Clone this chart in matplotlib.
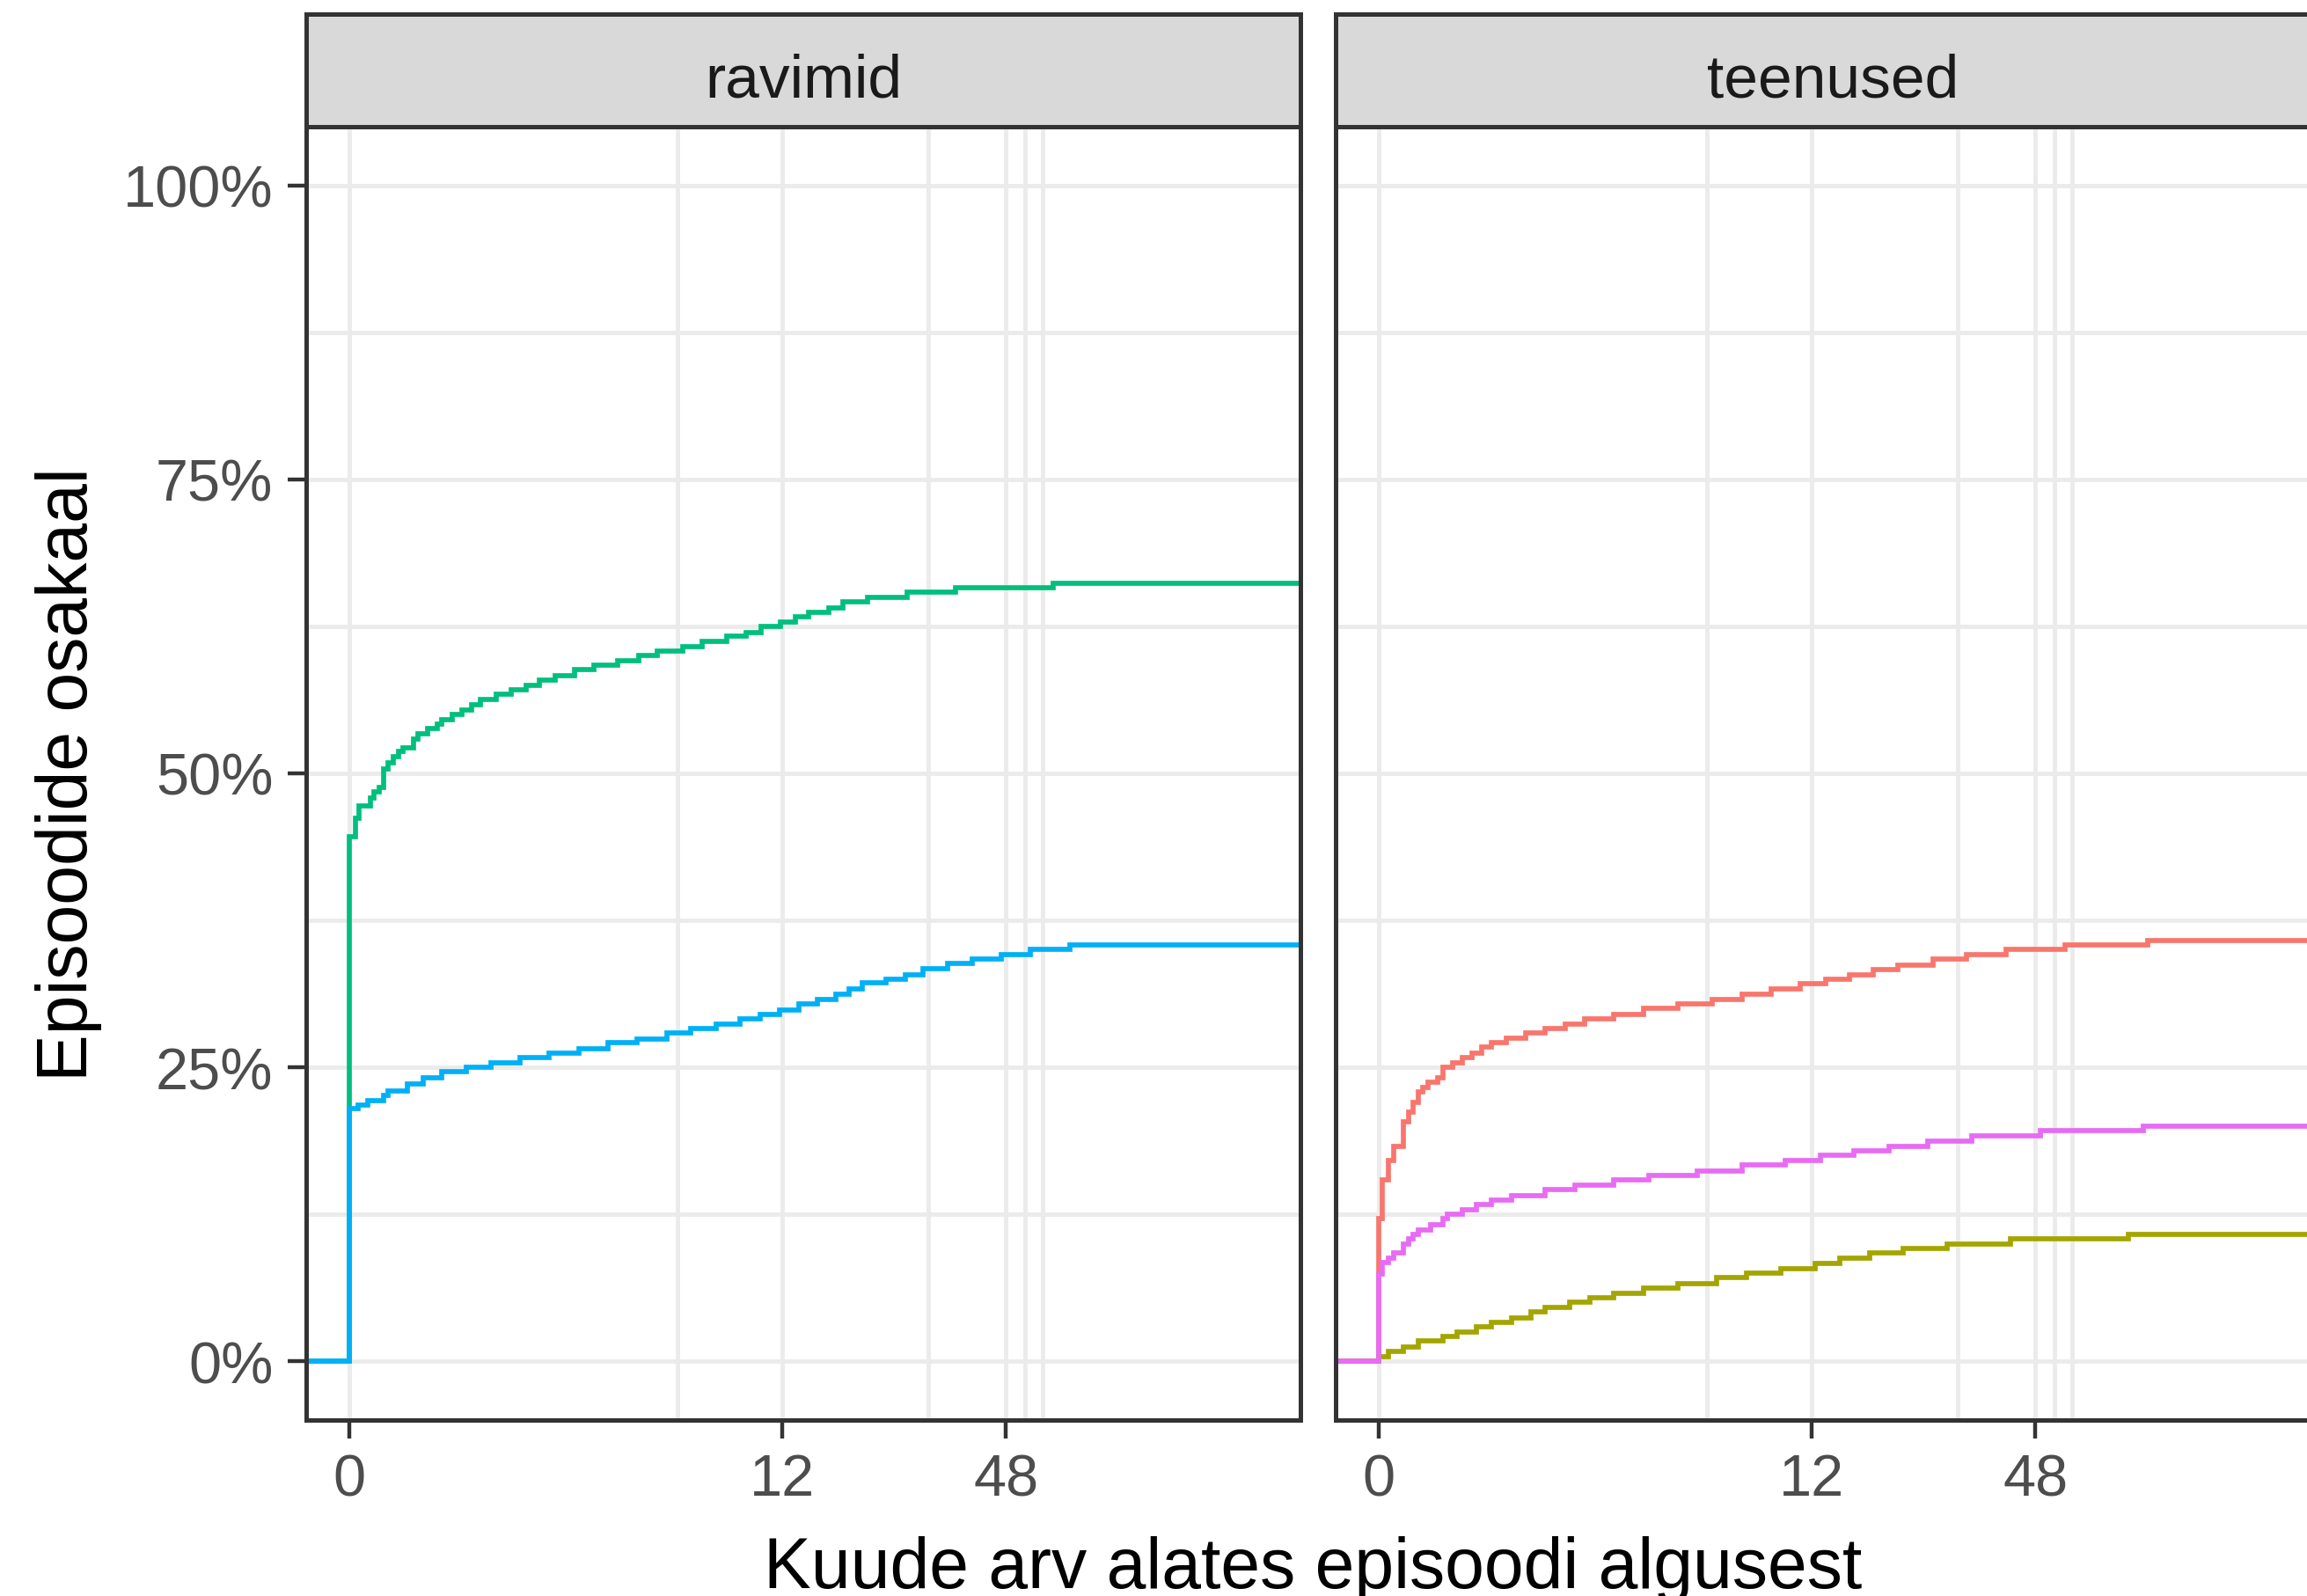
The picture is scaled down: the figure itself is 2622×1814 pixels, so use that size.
import numpy as np
import matplotlib.pyplot as plt
from matplotlib.ticker import FixedLocator, NullFormatter

plt.rcParams['font.family'] = ['Liberation Sans', 'DejaVu Sans']

# months since episode start / cumulative share (%)
ravimid_green_m = [0, 0.039, 0.057, 0.134, 0.157, 0.192, 0.2235, 0.26, 0.299, 0.338, 0.373, 0.464,
                   0.499, 0.592, 0.683, 0.734, 0.84, 0.946, 1.062, 1.181, 1.386, 1.61, 1.855, 2.092,
                   2.384, 2.797, 3.255, 3.92, 4.55, 5.21, 6.22, 7.10, 8.36, 9.5, 10.46, 11.87, 13.08,
                   14.2, 16.16, 17.65, 20.55, 26.25, 35.4, 63.9]
ravimid_green_p = [44.6, 46.2, 47.2, 47.9, 48.4, 48.8, 50.4, 50.9, 51.4, 51.9, 52.2, 52.9, 53.4, 53.8,
                   54.2, 54.6, 55.0, 55.4, 55.8, 56.3, 56.7, 57.1, 57.5, 57.9, 58.3, 58.8, 59.2, 59.6,
                   60.0, 60.4, 60.8, 61.2, 61.7, 62.0, 62.5, 62.9, 63.3, 63.7, 64.1, 64.6, 65.0, 65.4,
                   65.8, 66.2]

ravimid_blue_m = [0, 0.054, 0.119, 0.2235, 0.26, 0.412, 0.548, 0.734, 1.006, 1.315, 1.754, 2.27, 2.905,
                  3.635, 4.51, 5.56, 6.58, 7.81, 9.13, 10.42, 11.82, 13.36, 15.03, 16.85, 18.3, 19.9,
                  23.05, 26.0, 29.0, 33.7, 39.1, 46.7, 55.7, 70.5]
ravimid_blue_p = [21.5, 21.8, 22.2, 22.6, 23.0, 23.6, 24.1, 24.6, 25.0, 25.4, 25.8, 26.2, 26.6, 27.1,
                  27.4, 27.9, 28.3, 28.7, 29.1, 29.5, 29.9, 30.4, 30.8, 31.2, 31.7, 32.2, 32.5, 32.9,
                  33.4, 33.8, 34.2, 34.6, 35.0, 35.4]

teenused_red_m = [0, 0.023, 0.06, 0.092, 0.158, 0.193, 0.227, 0.262, 0.30, 0.337, 0.417, 0.461, 0.548,
                  0.641, 0.74, 0.843, 0.954, 1.129, 1.392, 1.687, 2.02, 2.39, 3.037, 3.81, 4.88, 6.22,
                  7.60, 9.24, 11.19, 13.12, 15.31, 17.75, 20.7, 25.7, 31.6, 40.2, 57.4, 94.5]
teenused_red_p = [12.1, 15.4, 17.1, 18.3, 20.4, 21.2, 22.0, 22.9, 23.3, 23.7, 24.1, 25.0, 25.4, 25.8,
                  26.2, 26.7, 27.1, 27.5, 27.9, 28.3, 28.7, 29.1, 29.5, 30.0, 30.4, 30.8, 31.2, 31.7,
                  32.1, 32.5, 32.9, 33.3, 33.7, 34.2, 34.6, 35.0, 35.4, 35.8]

teenused_olive_m = [0, 0.06, 0.158, 0.262, 0.461, 0.592, 0.789, 0.954, 1.196, 1.466, 1.687, 2.11, 2.494,
                    3.037, 3.81, 4.88, 6.43, 7.85, 9.86, 12.29, 14.38, 17.32, 21.4, 28.0, 41.3, 84.1]
teenused_olive_p = [0.4, 0.8, 1.2, 1.7, 2.1, 2.5, 2.9, 3.3, 3.7, 4.2, 4.6, 5.0, 5.4, 5.8, 6.2, 6.6, 7.1,
                    7.5, 7.9, 8.3, 8.8, 9.2, 9.6, 10.0, 10.4, 10.8]

teenused_pink_m = [0, 0.023, 0.06, 0.092, 0.158, 0.193, 0.227, 0.262, 0.359, 0.461, 0.502, 0.641, 0.789,
                   0.954, 1.196, 1.687, 2.20, 3.037, 3.95, 5.61, 7.60, 10.16, 12.69, 15.76, 19.57, 24.9,
                   32.6, 49.6, 91.9]
teenused_pink_p = [7.4, 8.4, 8.8, 9.2, 10.0, 10.4, 10.8, 11.2, 11.6, 12.1, 12.5, 12.9, 13.3, 13.7, 14.1,
                   14.6, 15.0, 15.4, 15.8, 16.2, 16.7, 17.1, 17.5, 17.9, 18.3, 18.7, 19.2, 19.6, 20.0]

x_major = [0, 12, 48]
x_minor = [6, 30, 54, 60]
y_major = [0, 25, 50, 75, 100]
y_minor = [12.5, 37.5, 62.5, 87.5]
y_labels = ['0%', '25%', '50%', '75%', '100%']

panels = [
    ('ravimid', [(ravimid_green_m, ravimid_green_p, '#00BF7D'),
                 (ravimid_blue_m, ravimid_blue_p, '#00B0F6')]),
    ('teenused', [(teenused_red_m, teenused_red_p, '#F8766D'),
                  (teenused_olive_m, teenused_olive_p, '#A3A500'),
                  (teenused_pink_m, teenused_pink_p, '#E76BF3')]),
]

W, H = 2622, 1815
DPI = 200
fig = plt.figure(figsize=(W / DPI, H / DPI), dpi=DPI)


def fwd(x):
    return np.log1p(np.clip(x, -0.99, None))


def inv(u):
    return np.expm1(u)


border = '#333333'
lw_border = 1.8
panel_w = 1130
panel_top, panel_bot = 145, 1615
strip_top = 17
lefts = [348, 1518]

for (name, series), left in zip(panels, lefts):
    ax = fig.add_axes([left / W, (H - panel_bot) / H, panel_w / W, (panel_bot - panel_top) / H])
    ax.set_xscale('function', functions=(fwd, inv))
    for m, p, col in series:
        xs = [-0.5] + list(m) + [500]
        ys = [0] + list(p) + [p[-1]]
        ax.step(xs, ys, where='post', color=col, lw=2.05,
                solid_joinstyle='miter', solid_capstyle='butt', zorder=3)
    ax.set_xlim(inv(-0.255), inv(5.638))
    ax.set_ylim(-5, 105)
    ax.xaxis.set_major_locator(FixedLocator(x_major))
    ax.xaxis.set_minor_locator(FixedLocator(x_minor))
    ax.xaxis.set_minor_formatter(NullFormatter())
    ax.set_xticklabels([str(v) for v in x_major])
    ax.yaxis.set_major_locator(FixedLocator(y_major))
    ax.yaxis.set_minor_locator(FixedLocator(y_minor))
    ax.yaxis.set_minor_formatter(NullFormatter())
    ax.grid(True, which='both', color='#EBEBEB', lw=1.75, zorder=0)
    ax.set_axisbelow(True)
    ax.tick_params(axis='both', which='major', length=7.5, width=1.6, color=border,
                   labelsize=24, labelcolor='#4D4D4D', pad=6)
    ax.tick_params(axis='both', which='minor', length=0)
    if left == lefts[0]:
        ax.set_yticklabels(y_labels)
    else:
        ax.tick_params(axis='y', which='both', left=False, labelleft=False)
    for s in ax.spines.values():
        s.set_color(border)
        s.set_linewidth(lw_border)
        s.set_zorder(5)

    sax = fig.add_axes([left / W, (H - panel_top) / H, panel_w / W, (panel_top - strip_top) / H])
    sax.set_facecolor('#D9D9D9')
    sax.set_xticks([])
    sax.set_yticks([])
    for s in sax.spines.values():
        s.set_color(border)
        s.set_linewidth(lw_border)
    sax.text(0.5, 0.41, name, transform=sax.transAxes, ha='center', va='center',
             fontsize=25, color='#1A1A1A')

fig.text(1492 / W, 10 / H, 'Kuude arv alates episoodi algusest', ha='center', va='baseline',
         fontsize=29, color='black')
fig.text(78 / W, (H - 880) / H, 'Episoodide osakaal', ha='center', va='center', rotation=90,
         fontsize=29, color='black')

fig.savefig('out.png', dpi=DPI, facecolor='white')
